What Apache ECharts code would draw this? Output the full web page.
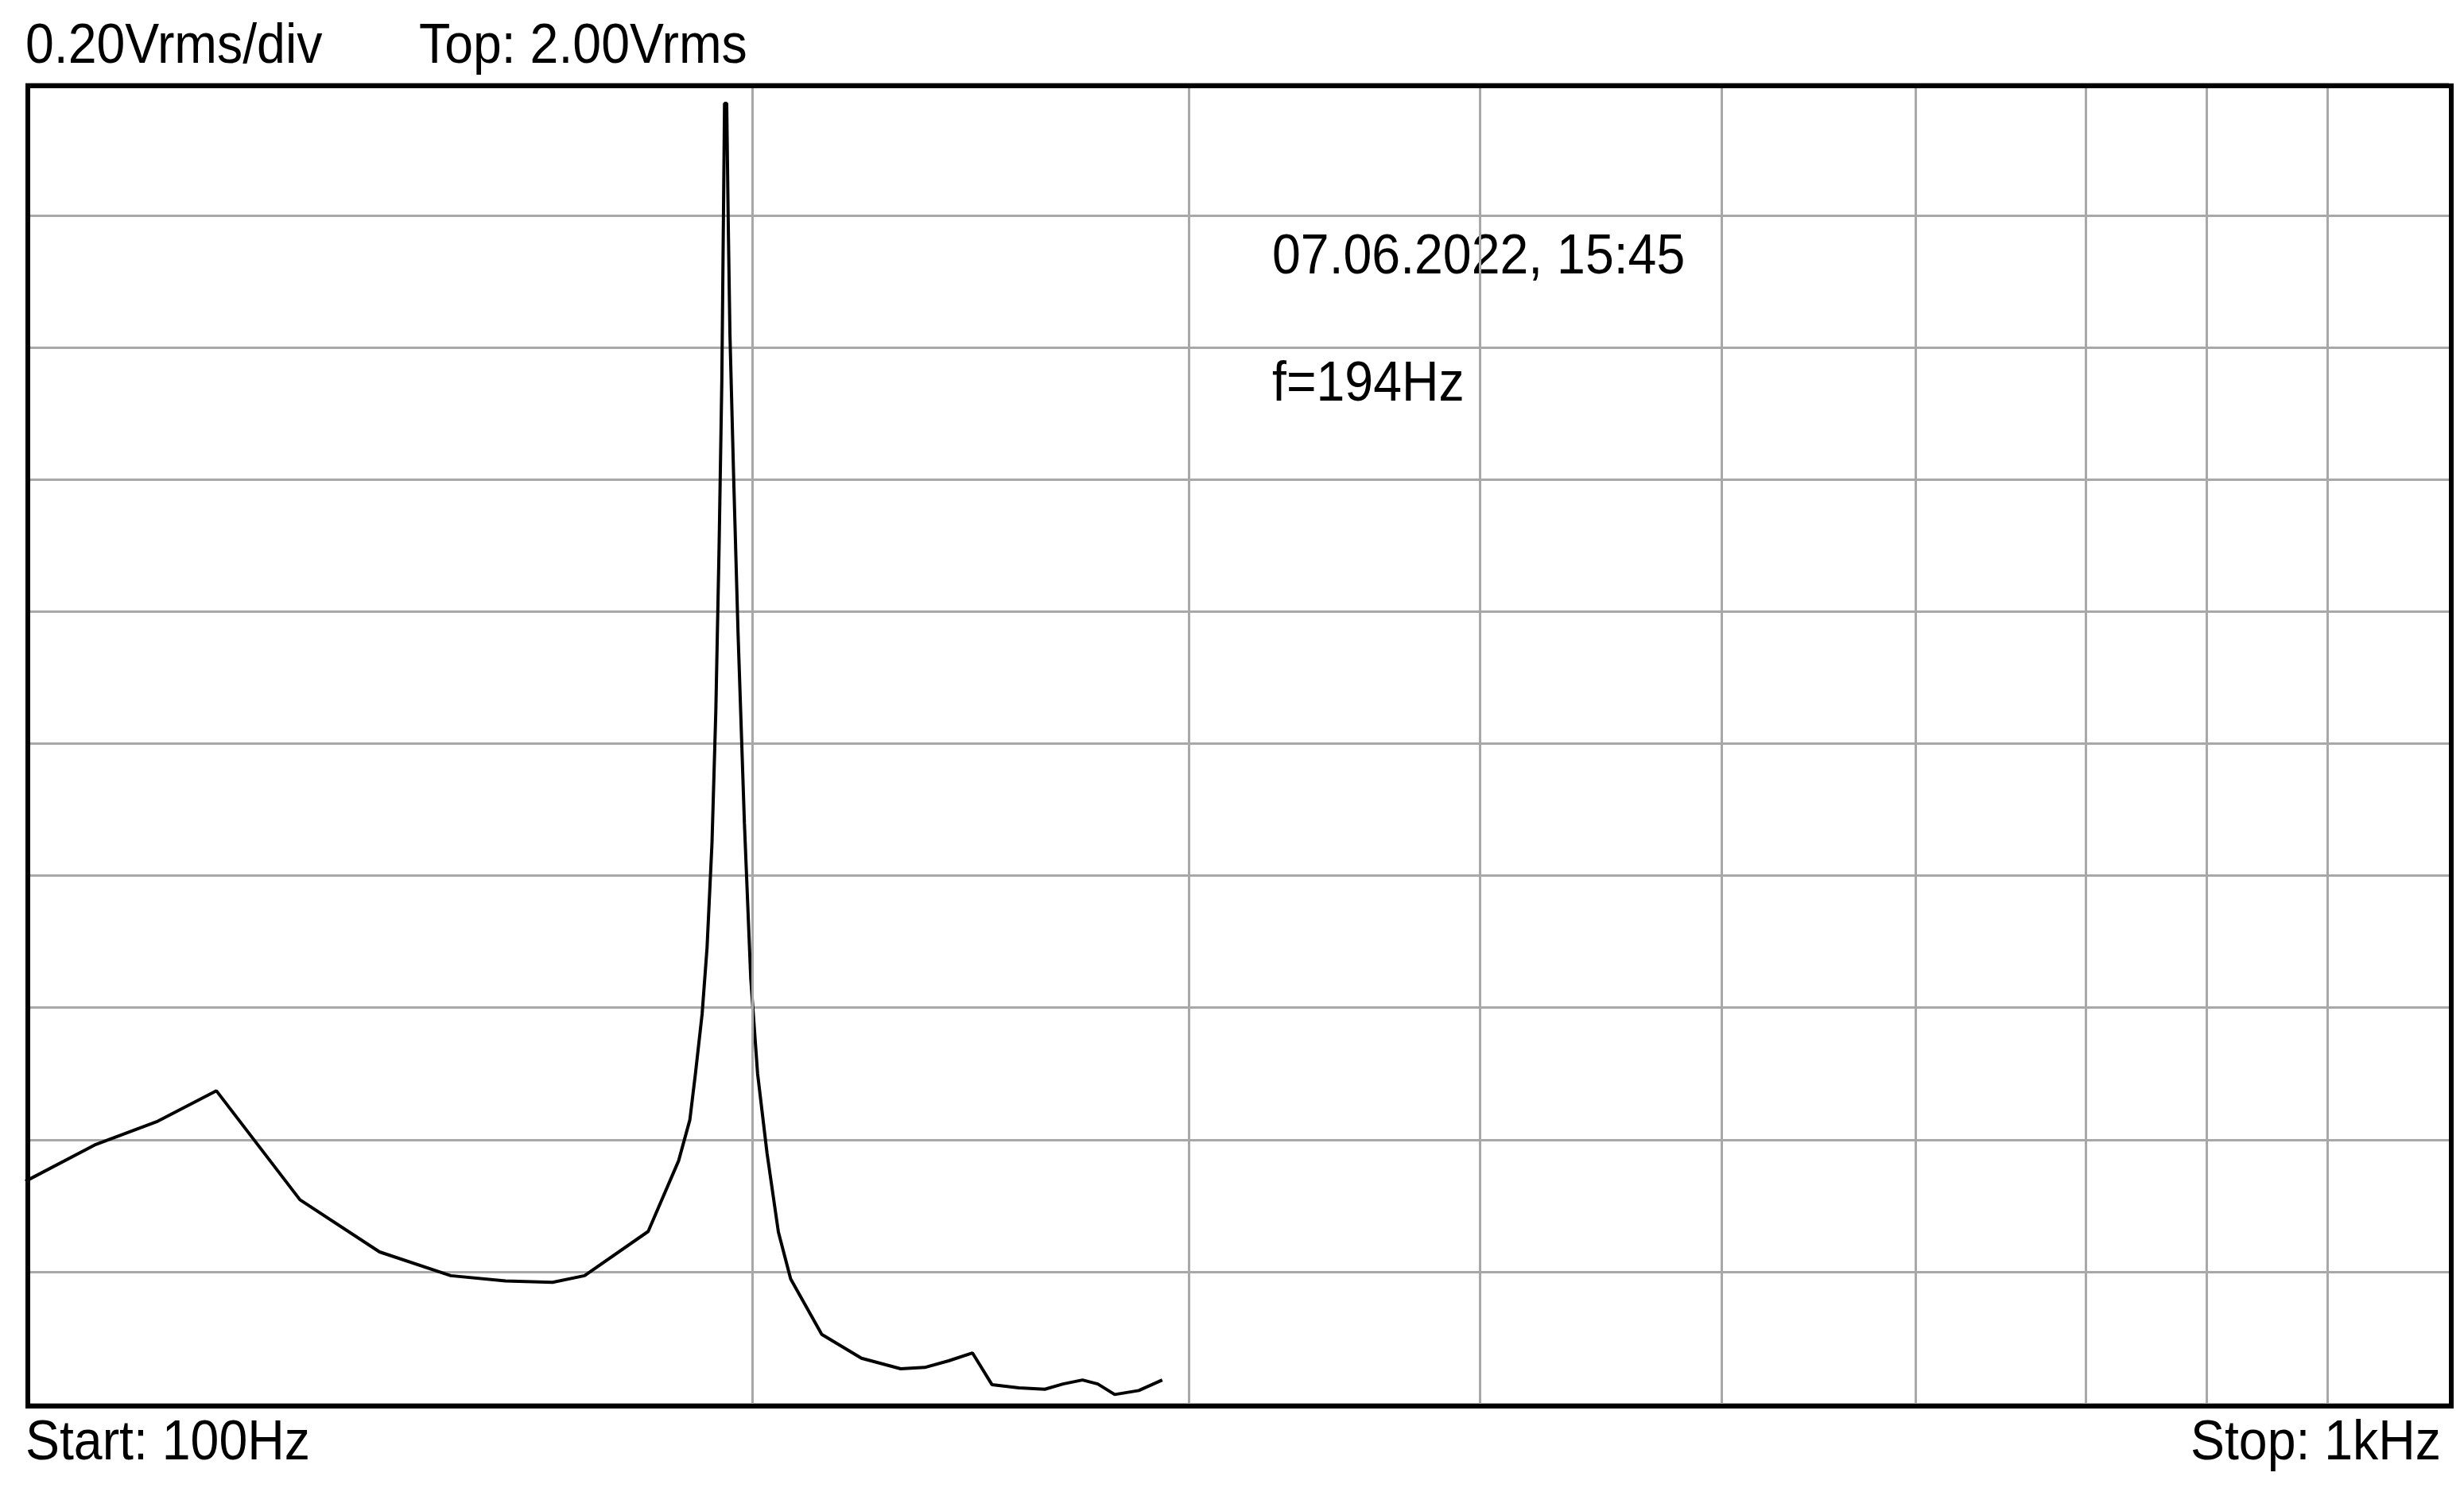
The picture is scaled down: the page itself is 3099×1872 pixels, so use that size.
<!DOCTYPE html>
<html>
<head>
<meta charset="utf-8">
<script src="https://cdn.jsdelivr.net/npm/echarts@6/dist/echarts.min.js"></script>
<style>
  html, body { margin: 0; padding: 0; background: #fff; }
  #main { width: 3099px; height: 1872px; }
</style>
</head>
<body>
<div id="main"></div>
<script>
// spectrum trace, frequency in Hz, amplitude in Vrms
const freqs = [100, 106.8, 113.4, 119.9, 129.8, 140.0, 149.8, 157.8, 165, 170.1, 180.7, 186.0, 188.0, 189.0, 190.2, 191.1,
  192.0, 192.7, 193.3, 193.8, 194.1, 194.3, 194.7, 195.0, 195.3, 196.0, 196.8, 198.0, 199.2, 200.5, 202.3, 204.5, 206.9, 213.1, 221.3, 229.7, 235, 240.4,
  245.9, 250.5, 257, 263.4, 268, 273.0, 277, 281.5, 288, 294.5];
const volts = [0.337, 0.392, 0.428, 0.474, 0.309, 0.230, 0.194, 0.186, 0.184, 0.194, 0.261, 0.368, 0.43, 0.500, 0.59, 0.691,
  0.85, 1.05, 1.30, 1.55, 1.80, 1.97, 1.97, 1.78, 1.62, 1.40, 1.17, 0.88, 0.644, 0.50, 0.380, 0.26, 0.189, 0.105, 0.069, 0.053, 0.055, 0.065,
  0.077, 0.029, 0.024, 0.022, 0.030, 0.036, 0.030, 0.014, 0.020, 0.036];
const gridFreqs = [200, 300, 400, 500, 600, 700, 800, 900];

let chart = echarts.init(document.getElementById('main'));
const textStyle = { fontFamily: '"Liberation Sans", Arial, sans-serif', fontSize: 70, fill: '#000' };
function label(pos, text) {
  return Object.assign({ type: 'text', scaleX: 0.92, style: Object.assign({ text: text }, textStyle) }, pos);
}

let option = {
  animation: false,
  grid: { left: 32, right: 19, top: 105, bottom: 106 },
  xAxis: {
    type: 'value', min: 2, max: 3,
    axisLine: { show: false }, axisTick: { show: false }, axisLabel: { show: false },
    splitLine: { show: false }
  },
  yAxis: {
    type: 'value', min: 0, max: 2, interval: 0.2,
    axisLine: { show: false }, axisTick: { show: false }, axisLabel: { show: false },
    splitLine: { show: true, lineStyle: { color: '#a8a8a8', width: 3 } }
  },
  series: [
    {
      type: 'line',
      data: freqs.map((f, i) => [Math.log10(f), volts[i]]),
      showSymbol: false,
      lineStyle: { color: '#000', width: 4 },
      markLine: {
        silent: true, symbol: 'none', label: { show: false },
        lineStyle: { color: '#a8a8a8', width: 3, type: 'solid' },
        data: gridFreqs.map(f => ({ xAxis: Math.log10(f) }))
      },
      z: 3
    }
  ],
  graphic: [
    { type: 'rect', left: 32, top: 105, shape: { width: 3048, height: 1661 },
      style: { fill: 'none', stroke: '#000', lineWidth: 6 }, z: 100 },
    label({ x: 32, y: 25 }, '0.20Vrms/div'),
    label({ x: 527, y: 25 }, 'Top: 2.00Vrms'),
    label({ x: 32, y: 1782 }, 'Start: 100Hz'),
    label({ x: 2755, y: 1782 }, 'Stop: 1kHz'),
    label({ x: 1600, y: 290 }, '07.06.2022, 15:45'),
    label({ x: 1600, y: 450 }, 'f=194Hz')
  ]
};

chart.setOption(option);
window.addEventListener('resize', () => { chart.resize(); });
</script>
</body>
</html>
